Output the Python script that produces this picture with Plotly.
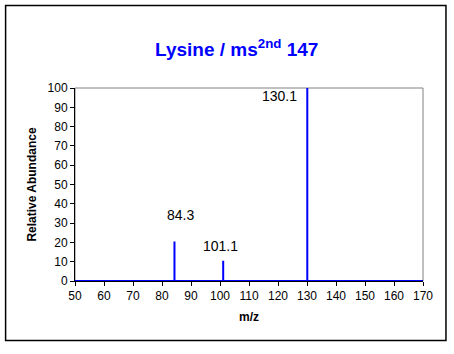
import plotly.graph_objects as go

# Data
peak_mz = [84.3, 101.1, 130.1]
peak_abund = [20.5, 10.5, 100]
peak_labels = ["84.3", "101.1", "130.1"]
x_range = [50, 170]
y_range = [0, 100]

# Build stick spectrum from peaks
xs = [x_range[0]]
ys = [0]
for m, a in zip(peak_mz, peak_abund):
    xs += [m, m, m]
    ys += [0, a, 0]
xs.append(x_range[1])
ys.append(0)

BLUE = "#0000FF"
FONT = "Arial, Liberation Sans, sans-serif"

fig = go.Figure()
fig.add_trace(go.Scatter(x=xs, y=ys, mode="lines",
                         line=dict(color=BLUE, width=2), hoverinfo="skip",
                         showlegend=False))

L, R, T, B = 75, 30.5, 88, 73
W, H = 454, 354
pw = W - L - R
ph = H - T - B

def px(xp):
    return (xp - L) / pw

def py(yp):
    return (H - B - yp) / ph

# Peak labels (offsets in pixels)
offsets = [(6, -66), (-3, -35), (-8, -185)]
anchors = ["center", "center", "right"]
for m, a, lab, (dx, dy), anc in zip(peak_mz, peak_abund, peak_labels, offsets, anchors):
    fig.add_annotation(x=m, y=0, xref="x", yref="y", text=lab, showarrow=False,
                       xanchor=anc, yanchor="middle", xshift=dx, yshift=-dy,
                       font=dict(family=FONT, size=14, color="black"))

# Title
fig.add_annotation(x=px(236.5), y=py(48), xref="paper", yref="paper",
                   text="<b>Lysine / ms<sup>2nd</sup> 147</b>", showarrow=False,
                   xanchor="center", yanchor="middle",
                   font=dict(family=FONT, size=19, color=BLUE))

# Outer border
fig.add_shape(type="rect", xref="paper", yref="paper",
              x0=px(5.5), x1=px(446.5), y0=py(340.5), y1=py(5.5),
              line=dict(color="black", width=1.5), layer="below")
# Plot area border (grey)
fig.add_shape(type="rect", xref="paper", yref="paper",
              x0=0, x1=1, y0=0, y1=1,
              line=dict(color="#808080", width=1), layer="below")

fig.update_layout(
    width=W, height=H,
    margin=dict(l=L, r=R, t=T, b=B),
    paper_bgcolor="white", plot_bgcolor="white",
    font=dict(family=FONT, size=12, color="black"),
    xaxis=dict(range=x_range, dtick=10, tick0=50, showgrid=False, zeroline=False,
               showline=True, linecolor="black", linewidth=1,
               ticks="outside", ticklen=4, tickcolor="black",
               tickfont=dict(size=12),
               title=dict(text="<b>m/z</b>", font=dict(size=12), standoff=10)),
    yaxis=dict(range=y_range, dtick=10, tick0=0, showgrid=False, zeroline=False,
               showline=True, linecolor="black", linewidth=1,
               ticks="outside", ticklen=4, tickcolor="black",
               tickfont=dict(size=12),
               title=dict(text="<b>Relative Abundance</b>", font=dict(size=12), standoff=8)),
)

fig.write_html("out.html")
